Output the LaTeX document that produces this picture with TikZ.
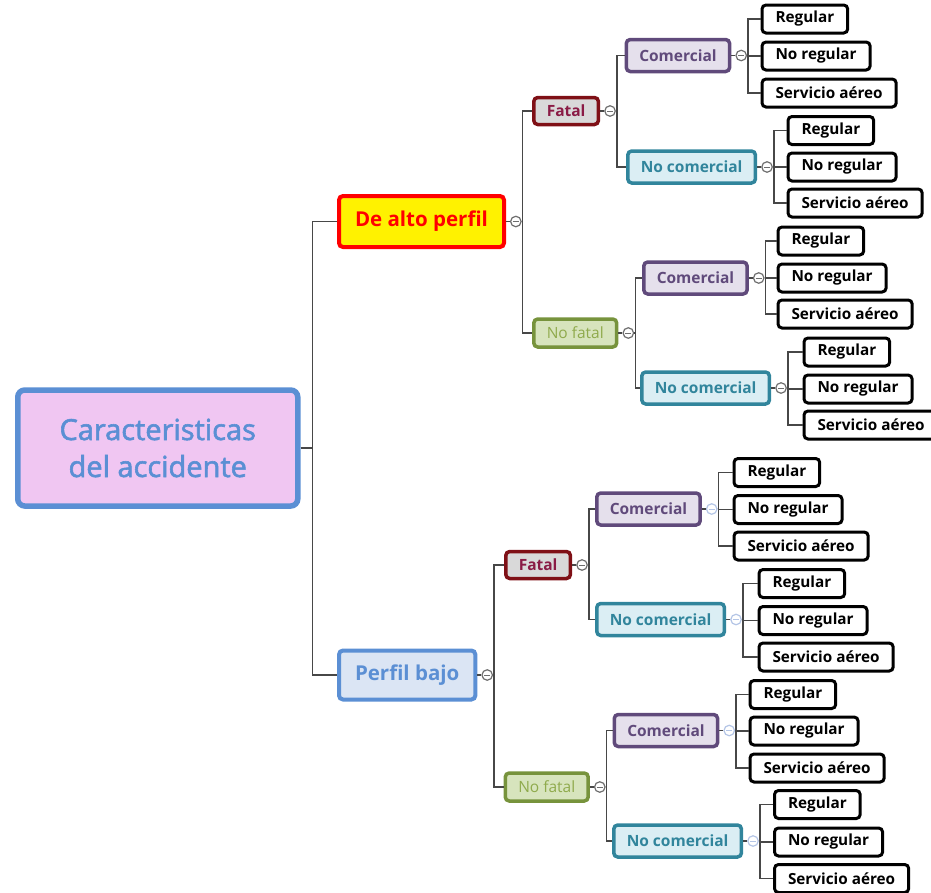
\documentclass[tikz,border=0pt]{standalone}
\usepackage{fontspec}
\setmainfont{Open Sans}
\newfontfamily\rootfont[FakeBold=2]{Open Sans}
\usepackage{xcolor}
\usetikzlibrary{positioning}

\definecolor{rootfill}{HTML}{F0C6F2}
\definecolor{rootline}{HTML}{5B8FD4}
\definecolor{bajofill}{HTML}{DBE5F4}
\definecolor{fatalfill}{HTML}{D9D9D9}
\definecolor{fatalline}{HTML}{7F1016}
\definecolor{fataltext}{HTML}{8A1B45}
\definecolor{nofatalfill}{HTML}{D7E4BD}
\definecolor{nofatalline}{HTML}{77933C}
\definecolor{nofataltext}{HTML}{8FAA4C}
\definecolor{comfill}{HTML}{E5E0EC}
\definecolor{comline}{HTML}{604A7B}
\definecolor{nocomfill}{HTML}{DBEEF4}
\definecolor{nocomline}{HTML}{31859C}
\definecolor{linkgray}{HTML}{474747}
\definecolor{knobgray}{HTML}{6E6E6E}
\definecolor{knobpale}{HTML}{B4C5E6}

\tikzset{
	box/.style={anchor=west, rounded corners=4pt, inner xsep=13pt, inner ysep=0pt},
	rootbox/.style={box, draw=rootline, fill=rootfill, text=rootline, line width=5.5pt, rounded corners=7pt, minimum width=280pt, minimum height=116pt, align=center, font=\rootfont\fontsize{29}{37}\selectfont},
	altobox/.style={box, draw=red, fill=yellow, text=red, line width=4pt, minimum height=51pt, inner xsep=16pt, font=\fontsize{20.5}{24}\selectfont\bfseries},
	bajobox/.style={box, draw=rootline, fill=bajofill, text=rootline, line width=4pt, minimum height=49pt, inner xsep=16pt, font=\fontsize{20.5}{24}\selectfont\bfseries},
	fatalbox/.style={box, draw=fatalline, fill=fatalfill, text=fataltext, line width=3.5pt, minimum height=27pt, font=\fontsize{15.5}{19}\selectfont\bfseries},
	nofatalbox/.style={box, draw=nofatalline, fill=nofatalfill, text=nofataltext, line width=3.5pt, minimum height=28pt, font=\fontsize{15.5}{19}\selectfont},
	combox/.style={box, draw=comline, fill=comfill, text=comline, line width=3.5pt, minimum height=32pt, font=\fontsize{15.5}{19}\selectfont\bfseries},
	nocombox/.style={box, draw=nocomline, fill=nocomfill, text=nocomline, line width=3.5pt, minimum height=32pt, font=\fontsize{15.5}{19}\selectfont\bfseries},
	leaf/.style={box, draw=black, fill=white, line width=3pt, minimum height=28pt, inner xsep=13.5pt, font=\fontsize{15.3}{18}\selectfont\bfseries},
	knob/.style={circle, draw=#1, fill=white, line width=1.2pt, minimum size=10.5pt, inner sep=0pt,
		path picture={\draw[#1, line width=0.9pt] ([xshift=-3pt]path picture bounding box.center) -- ([xshift=3pt]path picture bounding box.center);}},
	knob/.default=knobgray,
	link/.style={draw=linkgray, line width=1.3pt},
	elbow/.style={link, to path={-- ++(#1,0) |- (\tikztotarget)}},
	elbow/.default=1
}

\begin{document}
\begin{tikzpicture}[x=1pt,y=-1pt]
	\useasboundingbox (0,0) rectangle (931,892);

	\node[rootbox] (root) at (15,448) {Caracteristicas\\del accidente};
	\node[altobox] (alto) at (337,221.5) {De alto perfil};
	\node[bajobox] (bajo) at (337,675) {Perfil bajo};

	\node[fatalbox] (afatal) at (532,111) {Fatal};
	\node[nofatalbox] (anofatal) at (532,333) {No fatal};
	\node[fatalbox] (bfatal) at (504,565) {Fatal};
	\node[nofatalbox] (bnofatal) at (503.5,787) {No fatal};

	\node[combox] (afcom) at (624.5,55.5) {Comercial};
	\node[nocombox] (afnocom) at (626,167) {No comercial};
	\node[combox] (ancom) at (642,278) {Comercial};
	\node[nocombox] (annocom) at (640,388) {No comercial};
	\node[combox] (bfcom) at (595,509) {Comercial};
	\node[nocombox] (bfnocom) at (595,619.5) {No comercial};
	\node[combox] (bncom) at (612.5,730.5) {Comercial};
	\node[nocombox] (bnnocom) at (612,841) {No comercial};

	\node[leaf] (afcom1) at (760.5,19) {Regular};
	\node[leaf] (afcom2) at (760.5,56) {No regular};
	\node[leaf] (afcom3) at (760.5,93) {Servicio aéreo};
	\node[leaf] (afnocom1) at (786.5,130.5) {Regular};
	\node[leaf] (afnocom2) at (786.5,167) {No regular};
	\node[leaf] (afnocom3) at (786.5,203) {Servicio aéreo};
	\node[leaf] (ancom1) at (776.5,241) {Regular};
	\node[leaf] (ancom2) at (776.5,278) {No regular};
	\node[leaf] (ancom3) at (776.5,314) {Servicio aéreo};
	\node[leaf] (annocom1) at (802.5,352) {Regular};
	\node[leaf] (annocom2) at (802.5,389) {No regular};
	\node[leaf] (annocom3) at (802.5,425) {Servicio aéreo};
	\node[leaf] (bfcom1) at (732.5,472.5) {Regular};
	\node[leaf] (bfcom2) at (732.5,509.5) {No regular};
	\node[leaf] (bfcom3) at (732.5,546) {Servicio aéreo};
	\node[leaf] (bfnocom1) at (757.5,583.5) {Regular};
	\node[leaf] (bfnocom2) at (757.5,620.5) {No regular};
	\node[leaf] (bfnocom3) at (757.5,657) {Servicio aéreo};
	\node[leaf] (bncom1) at (748.5,694.5) {Regular};
	\node[leaf] (bncom2) at (748.5,731) {No regular};
	\node[leaf] (bncom3) at (748.5,768) {Servicio aéreo};
	\node[leaf] (bnnocom1) at (773,804.5) {Regular};
	\node[leaf] (bnnocom2) at (773,842) {No regular};
	\node[leaf] (bnnocom3) at (773,878.5) {Servicio aéreo};

	\node[knob, right=4pt of alto] (kalto) {};
	\node[knob, right=4pt of bajo] (kbajo) {};
	\node[knob, right=4pt of afatal] (kafatal) {};
	\node[knob, right=4pt of anofatal] (kanofatal) {};
	\node[knob, right=4pt of bfatal] (kbfatal) {};
	\node[knob, right=4pt of bnofatal] (kbnofatal) {};
	\node[knob, right=4pt of afcom] (kafcom) {};
	\node[knob, right=4pt of afnocom] (kafnocom) {};
	\node[knob, right=4pt of ancom] (kancom) {};
	\node[knob, right=4pt of annocom] (kannocom) {};
	\node[knob=knobpale, right=4pt of bfcom] (kbfcom) {};
	\node[knob=knobpale, right=4pt of bfnocom] (kbfnocom) {};
	\node[knob=knobpale, right=4pt of bncom] (kbncom) {};
	\node[knob=knobpale, right=4pt of bnnocom] (kbnnocom) {};

	\path (root.east) edge[elbow=12] (alto.west) edge[elbow=12] (bajo.west);
	\path (alto.east) edge[link] (kalto.west);
	\path (bajo.east) edge[link] (kbajo.west);
	\path (kalto.east) edge[elbow] (afatal.west) edge[elbow] (anofatal.west);
	\path (kbajo.east) edge[elbow] (bfatal.west) edge[elbow] (bnofatal.west);

	\path (afatal.east) edge[link] (kafatal.west);
	\path (anofatal.east) edge[link] (kanofatal.west);
	\path (bfatal.east) edge[link] (kbfatal.west);
	\path (bnofatal.east) edge[link] (kbnofatal.west);
	\path (kafatal.east) edge[elbow] (afcom.west) edge[elbow] (afnocom.west);
	\path (kanofatal.east) edge[elbow] (ancom.west) edge[elbow] (annocom.west);
	\path (kbfatal.east) edge[elbow] (bfcom.west) edge[elbow] (bfnocom.west);
	\path (kbnofatal.east) edge[elbow] (bncom.west) edge[elbow] (bnnocom.west);

	\path (afcom.east) edge[link] (kafcom.west);
	\path (afnocom.east) edge[link] (kafnocom.west);
	\path (ancom.east) edge[link] (kancom.west);
	\path (annocom.east) edge[link] (kannocom.west);
	\path (bfcom.east) edge[link] (kbfcom.west);
	\path (bfnocom.east) edge[link] (kbfnocom.west);
	\path (bncom.east) edge[link] (kbncom.west);
	\path (bnnocom.east) edge[link] (kbnnocom.west);

	\path (kafcom.east) edge[elbow] (afcom1.west) edge[elbow] (afcom2.west) edge[elbow] (afcom3.west);
	\path (kafnocom.east) edge[elbow] (afnocom1.west) edge[elbow] (afnocom2.west) edge[elbow] (afnocom3.west);
	\path (kancom.east) edge[elbow] (ancom1.west) edge[elbow] (ancom2.west) edge[elbow] (ancom3.west);
	\path (kannocom.east) edge[elbow] (annocom1.west) edge[elbow] (annocom2.west) edge[elbow] (annocom3.west);
	\path (kbfcom.east) edge[elbow] (bfcom1.west) edge[elbow] (bfcom2.west) edge[elbow] (bfcom3.west);
	\path (kbfnocom.east) edge[elbow] (bfnocom1.west) edge[elbow] (bfnocom2.west) edge[elbow] (bfnocom3.west);
	\path (kbncom.east) edge[elbow] (bncom1.west) edge[elbow] (bncom2.west) edge[elbow] (bncom3.west);
	\path (kbnnocom.east) edge[elbow] (bnnocom1.west) edge[elbow] (bnnocom2.west) edge[elbow] (bnnocom3.west);
\end{tikzpicture}
\end{document}
